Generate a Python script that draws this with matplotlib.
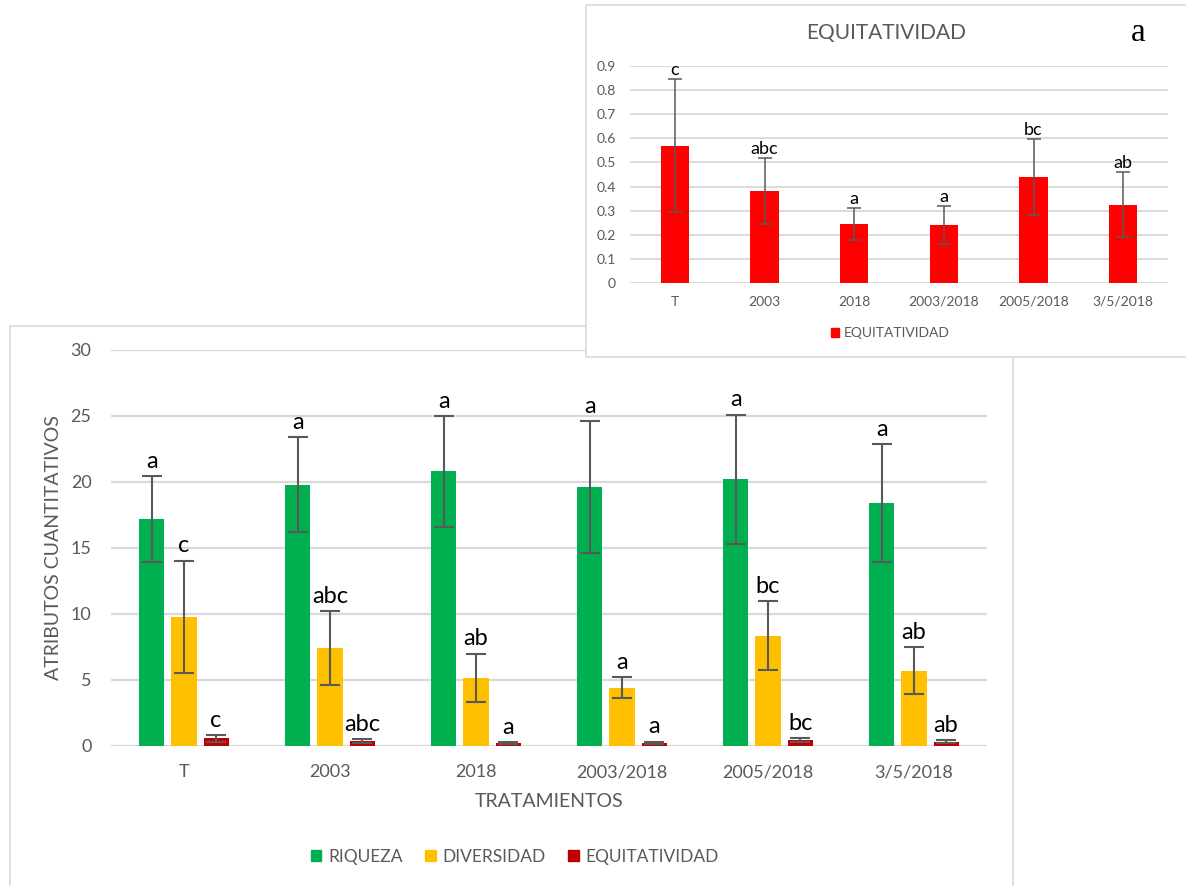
import matplotlib.pyplot as plt
from matplotlib.patches import Rectangle, Patch
import numpy as np

plt.rcParams['font.family'] = ['Lato', 'DejaVu Sans']

categories = ['T', '2003', '2018', '2003/2018', '2005/2018', '3/5/2018']

riqueza = [17.2, 19.8, 20.8, 19.6, 20.2, 18.4]
riqueza_err = [3.25, 3.6, 4.2, 5.0, 4.9, 4.45]
riqueza_let = ['a', 'a', 'a', 'a', 'a', 'a']

diversidad = [9.8, 7.4, 5.15, 4.4, 8.35, 5.7]
diversidad_err = [4.25, 2.8, 1.85, 0.8, 2.6, 1.77]
diversidad_let = ['c', 'abc', 'ab', 'a', 'bc', 'ab']

equitatividad = [0.57, 0.38, 0.245, 0.24, 0.44, 0.325]
equitatividad_err = [0.275, 0.137, 0.065, 0.079, 0.156, 0.135]
equitatividad_let = ['c', 'abc', 'a', 'a', 'bc', 'ab']

GRID = '#d9d9d9'
TXT = '#595959'
W, H = 1186, 886

fig = plt.figure(figsize=(W / 100, H / 100), dpi=100)

def fx(px):
    return px / W

def fy(py):
    return 1 - py / H

# chart area frames
fig.patches.append(Rectangle((fx(10), -0.01), fx(1003), fy(326) + 0.01,
                             transform=fig.transFigure, facecolor='white',
                             edgecolor=GRID, lw=1.2, zorder=-1))
fig.patches.append(Rectangle((fx(586), fy(357)), fx(620), fy(5) - fy(357),
                             transform=fig.transFigure, facecolor='white',
                             edgecolor=GRID, lw=1.2, zorder=1))

# ---- main chart: three attributes per treatment ----
ax = fig.add_axes([fx(111), fy(746), fx(987 - 111), fy(350) - fy(746)], zorder=0)
x = np.arange(len(categories))
bw = 0.172
off = 0.22
series = [
    (riqueza, riqueza_err, riqueza_let, '#00b050', 'RIQUEZA'),
    (diversidad, diversidad_err, diversidad_let, '#ffc000', 'DIVERSIDAD'),
    (equitatividad, equitatividad_err, equitatividad_let, '#c00000', 'EQUITATIVIDAD'),
]
for k, (vals, errs, lets, col, name) in enumerate(series):
    xs = x + (k - 1) * off
    ax.bar(xs, vals, bw, color=col, zorder=2, label=name)
    ax.errorbar(xs, vals, yerr=errs, fmt='none', ecolor=TXT, elinewidth=1.5,
                capsize=7, capthick=1.5, zorder=3)
    for xi, v, e, t in zip(xs, vals, errs, lets):
        ax.annotate(t, (xi, v + e), xytext=(0, 6), textcoords='offset points',
                    ha='center', va='baseline', fontsize=17, color='black')

ax.set_xlim(-0.5, len(categories) - 0.5)
ax.set_ylim(0, 30)
ax.set_yticks(range(0, 31, 5))
ax.set_xticks(x)
ax.set_xticklabels(categories)
ax.tick_params(axis='both', length=0, labelsize=13, colors=TXT)
ax.tick_params(axis='y', pad=14)
ax.tick_params(axis='x', pad=13)
for s in ax.spines.values():
    s.set_visible(False)
ax.yaxis.grid(True, color=GRID, lw=1.6, zorder=0)
ax.set_axisbelow(True)
ax.set_xlabel('TRATAMIENTOS', fontsize=14, color=TXT)
ax.xaxis.set_label_coords(0.5, -0.139)
ax.xaxis.label.set_va('center')
ax.set_ylabel('ATRIBUTOS CUANTITATIVOS', fontsize=14, color=TXT)
ax.yaxis.set_label_coords(-0.066, 0.5)
ax.yaxis.label.set_va('center')

handles = [Patch(color=c, label=n) for _, _, _, c, n in series]
fig.legend(handles=handles, loc='center', bbox_to_anchor=(fx(515), fy(857)),
           ncol=3, frameon=False, fontsize=12.5, labelcolor=TXT,
           handlelength=0.6, handleheight=0.6, handletextpad=0.4,
           columnspacing=1.3)

# ---- inset: EQUITATIVIDAD alone ----
ai = fig.add_axes([fx(630), fy(283), fx(1168 - 630), fy(66) - fy(283)], zorder=2)
ai.bar(x, equitatividad, 0.315, color='#ff0000', zorder=2, label='EQUITATIVIDAD')
ai.errorbar(x, equitatividad, yerr=equitatividad_err, fmt='none', ecolor=TXT,
            elinewidth=1.1, capsize=5, capthick=1.1, zorder=3)
for xi, v, e, t in zip(x, equitatividad, equitatividad_err, equitatividad_let):
    ai.annotate(t, (xi, v + e), xytext=(0, 3), textcoords='offset points',
                ha='center', va='baseline', fontsize=13, color='black')
ai.set_xlim(-0.5, len(categories) - 0.5)
ai.set_ylim(0, 0.9)
ai.set_yticks(np.arange(0, 0.91, 0.1))
ai.set_yticklabels(['0'] + ['%.1f' % v for v in np.arange(0.1, 0.91, 0.1)])
ai.set_xticks(x)
ai.set_xticklabels(categories)
ai.tick_params(axis='both', length=0, labelsize=10, colors=TXT)
ai.tick_params(axis='y', pad=10)
ai.tick_params(axis='x', pad=9)
for s in ai.spines.values():
    s.set_visible(False)
ai.yaxis.grid(True, color=GRID, lw=1.3, zorder=0)
ai.set_axisbelow(True)
ai.patch.set_alpha(0)

fig.text(fx(886), fy(33), 'EQUITATIVIDAD', ha='center', va='center',
         fontsize=15, color=TXT, zorder=3)
fig.text(fx(1138), fy(33), 'a', ha='center', va='center', fontsize=24,
         family='Liberation Serif', color='black', zorder=3)
leg = fig.legend(handles=[Patch(color='#ff0000', label='EQUITATIVIDAD')],
                 loc='center', bbox_to_anchor=(fx(890), fy(333)), frameon=False,
                 fontsize=10, labelcolor=TXT, handlelength=0.6, handleheight=0.6,
                 handletextpad=0.3)
leg.set_zorder(3)

fig.savefig('out.png', dpi=100)
